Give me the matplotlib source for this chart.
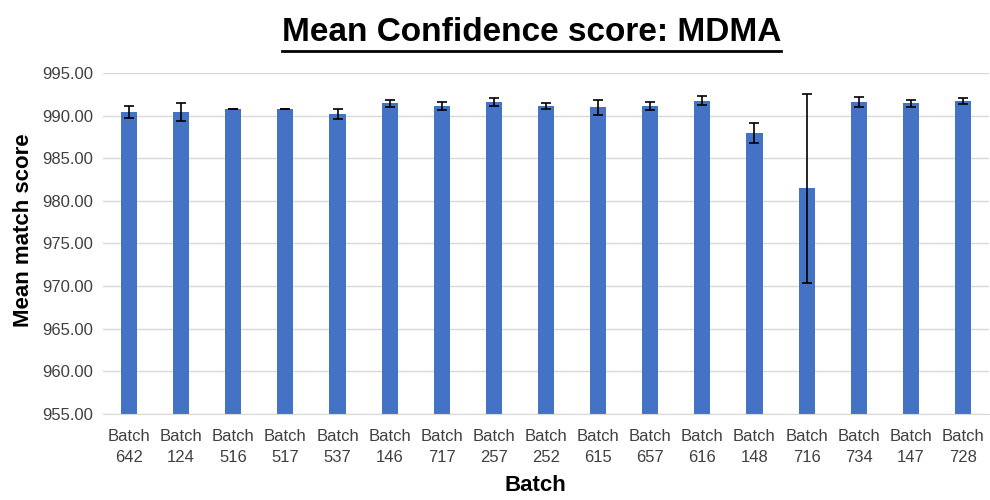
import matplotlib
matplotlib.use("Agg")
import matplotlib.pyplot as plt
from matplotlib.lines import Line2D
from matplotlib.ticker import FormatStrFormatter
from matplotlib import font_manager

batches = ["642", "124", "516", "517", "537", "146", "717", "257", "252",
           "615", "657", "616", "148", "716", "734", "147", "728"]
mean_score = [990.43, 990.43, 990.74, 990.74, 990.19, 991.44, 991.13, 991.56,
              991.13, 991.00, 991.13, 991.72, 987.93, 981.47, 991.56, 991.44,
              991.72]
err = [0.68, 1.10, 0.02, 0.02, 0.53, 0.39, 0.45, 0.47, 0.40, 0.88, 0.43, 0.53,
       1.15, 11.10, 0.59, 0.41, 0.37]

names = {f.name for f in font_manager.fontManager.ttflist}
title_font = "Liberation Sans Narrow" if "Liberation Sans Narrow" in names else "Liberation Sans"
plt.rcParams["font.family"] = ["Liberation Sans", "DejaVu Sans"]

fig = plt.figure(figsize=(9.9, 5), dpi=100)
ax = fig.add_axes([0.104, 0.172, 0.895, 0.682])

labels = [f"Batch\n{b}" for b in batches]
x = range(len(batches))
ax.bar(x, mean_score, width=0.31, color="#4472C4", zorder=2)
ax.errorbar(x, mean_score, yerr=err, fmt="none", ecolor="black",
            elinewidth=1.2, capsize=3.5, capthick=1.2, zorder=3)

ax.set_ylim(955, 995)
ax.set_xlim(-0.5, len(batches) - 0.5)
ax.set_yticks(range(955, 996, 5))
ax.yaxis.set_major_formatter(FormatStrFormatter("%.2f"))
ax.set_xticks(list(x))
ax.set_xticklabels(labels, linespacing=1.45)
ax.tick_params(axis="both", length=0, labelsize=12, colors="#404040")
ax.tick_params(axis="x", pad=11)
ax.tick_params(axis="y", pad=7)
ax.grid(axis="y", color="#D9D9D9", linewidth=1, zorder=0)
for s in ["top", "right", "left"]:
    ax.spines[s].set_visible(False)
ax.spines["bottom"].set_color("#D9D9D9")

ax.set_ylabel("Mean match score", fontsize=16, fontweight="bold")
ax.yaxis.set_label_coords(-0.078, 0.54)
fig.text(0.541, 0.018, "Batch", fontsize=16, fontweight="bold", ha="center")

title = fig.text(0.537, 0.935, "Mean Confidence score: MDMA", fontsize=24,
                 fontweight="bold", ha="center", va="center", family=title_font)
fig.canvas.draw()
bb = title.get_window_extent().transformed(fig.transFigure.inverted())
fig.add_artist(Line2D([bb.x0, bb.x1], [bb.y0 - 0.006, bb.y0 - 0.006],
                      transform=fig.transFigure, color="black", linewidth=2))

fig.savefig("out.png", dpi=100)
